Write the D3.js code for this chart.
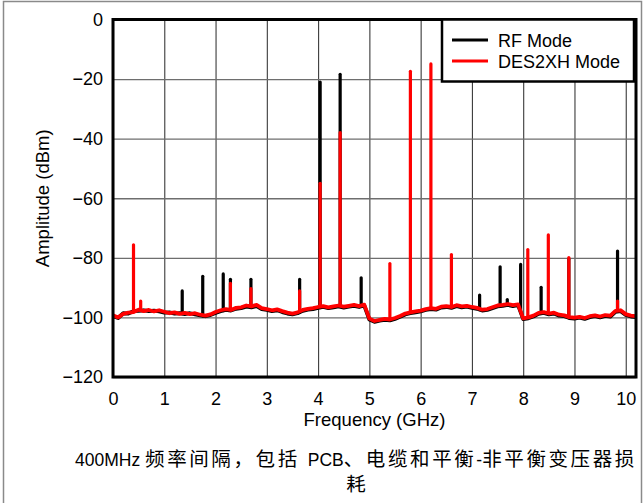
<!DOCTYPE html>
<html>
<head>
<meta charset="utf-8">
<script src="https://cdn.jsdelivr.net/npm/d3@7/dist/d3.min.js"></script>
<style>
  html, body { margin: 0; padding: 0; background: #fff; }
  svg { display: block; }
  text { font-family: "Liberation Sans", Arial, "Noto Sans CJK SC", sans-serif; fill: #000; }
</style>
</head>
<body>
<svg id="chart" width="644" height="503"></svg>
<script>
// ---------------- DATA ----------------
const xTicks = [0, 1, 2, 3, 4, 5, 6, 7, 8, 9, 10];
const yTicks = [0, -20, -40, -60, -80, -100, -120];
const seriesNames = ["RF Mode", "DES2XH Mode"];
const seriesColors = ["#000000", "#ff0000"];

// noise floor sampled every 0.1 GHz from 0 to 10.2 GHz (dBm)
const floorFreqStep = 0.1;
const rfFloor = [
  -99.6, -100.2, -98.6, -98.7, -97.9, -97.8, -97.6, -97.9, -97.7, -98.0,
  -98.4, -98.3, -98.7, -98.6, -98.9, -98.6, -99.0, -99.3, -99.6, -99.2,
  -98.5, -97.9, -97.5, -97.7, -97.1, -96.9, -96.4, -96.6, -96.2, -97.2,
  -97.5, -97.9, -97.6, -98.2, -98.7, -99.0, -98.6, -97.8, -97.4, -97.2,
  -96.8, -96.5, -96.9, -96.6, -96.3, -96.7, -96.4, -96.1, -96.5, -96.0,
  -100.7, -101.5, -101.1, -100.8, -101.0, -100.5, -99.8, -99.0, -98.6, -98.3,
  -98.0, -97.5, -97.2, -97.4, -96.7, -96.5, -96.8, -96.2, -96.6, -96.4,
  -96.8, -97.1, -97.7, -97.5, -96.9, -96.3, -96.1, -95.8, -96.2, -95.9,
  -100.6, -100.3, -99.7, -98.8, -98.5, -99.0, -98.7, -99.4, -99.6, -100.2,
  -100.4, -100.1, -100.5, -99.9, -99.6, -100.0, -99.5, -99.7, -98.1, -97.9,
  -99.2, -99.7, -99.9
];
const desFloor = [
  -99.3, -100.0, -98.8, -98.4, -98.2, -97.4, -97.9, -97.5, -98.0, -97.6,
  -98.1, -98.6, -98.3, -98.8, -98.5, -98.9, -98.6, -99.1, -99.4, -99.0,
  -98.2, -97.6, -97.2, -97.5, -96.8, -96.6, -96.0, -96.3, -95.8, -96.9,
  -97.2, -97.6, -97.3, -97.9, -98.4, -98.7, -98.3, -97.5, -97.1, -96.9,
  -96.5, -96.2, -96.6, -96.3, -96.0, -96.4, -96.1, -95.8, -96.2, -95.7,
  -100.4, -101.2, -100.8, -100.5, -100.7, -100.2, -99.5, -98.7, -98.3, -98.0,
  -97.7, -97.2, -96.9, -97.1, -96.4, -96.2, -96.5, -95.9, -96.3, -96.1,
  -96.5, -96.8, -97.4, -97.2, -96.6, -96.0, -95.8, -95.5, -95.9, -95.6,
  -100.3, -100.0, -99.4, -98.5, -98.2, -98.7, -98.4, -99.1, -99.3, -99.9,
  -100.1, -99.8, -100.2, -99.6, -99.3, -99.7, -99.2, -99.4, -97.8, -97.6,
  -98.9, -99.4, -99.6
];

// spurs: frequency (GHz) and peak level (dBm)
const rfSpurFreq = [1.35, 1.75, 2.15, 2.29, 2.69, 3.64, 4.04, 4.43, 4.84, 7.15, 7.55, 7.69, 7.95, 8.35, 8.89, 9.84];
const rfSpurPeak = [-91.1, -86.2, -85.4, -87.2, -87.2, -87.2, -21.0, -18.4, -86.7, -92.5, -83.0, -94.0, -82.2, -89.9, -80.5, -77.7];
const desSpurFreq = [0.40, 0.54, 2.29, 2.69, 3.64, 4.04, 4.43, 5.40, 5.80, 6.20, 6.60, 8.09, 8.49, 8.89, 9.84];
const desSpurPeak = [-75.6, -94.5, -88.6, -90.3, -91.1, -55.0, -38.0, -81.9, -17.4, -14.9, -78.9, -77.2, -72.3, -79.9, -94.5];

const xTitle = "Frequency (GHz)";
const yTitle = "Amplitude (dBm)";
const captionLine1 = ["400MHz ", "频率间隔，", "包括 ", "PCB", "、电缆和平衡", "-", "非平衡变压器损"];
const captionLine2 = "耗";

// ---------------- LAYOUT ----------------
const svg = d3.select("#chart");
const L = 113, R = 636, T = 19.5, B = 377;

const x = d3.scaleLinear().domain([0, 10.2]).range([L, R]);
const y = d3.scaleLinear().domain([-120, 0]).range([B, T]);

// outer figure border
svg.append("rect")
  .attr("x", 3.5).attr("y", 1.5).attr("width", 638).attr("height", 520)
  .attr("fill", "none").attr("stroke", "#8a8a8a").attr("stroke-width", 1.5);

// clip
svg.append("defs").append("clipPath").attr("id", "plotclip")
  .append("rect").attr("x", L).attr("y", T).attr("width", R - L).attr("height", B - T);

// gridlines
const grid = svg.append("g");
grid.append("g")
  .attr("transform", `translate(0,${B})`)
  .call(d3.axisBottom(x).tickValues(xTicks).tickSize(-(B - T)).tickFormat(""))
  .call(g => g.select(".domain").remove())
  .call(g => g.selectAll("line").attr("stroke", "#3a3a3a").attr("stroke-width", 1.1));
grid.append("g")
  .attr("transform", `translate(${L},0)`)
  .call(d3.axisLeft(y).tickValues(yTicks).tickSize(-(R - L)).tickFormat(""))
  .call(g => g.select(".domain").remove())
  .call(g => g.selectAll("line").attr("stroke", "#6e6e6e").attr("stroke-width", 1.4));

// data
const plot = svg.append("g").attr("clip-path", "url(#plotclip)");

function floorPoints(arr) {
  return arr.map((v, i) => [i * floorFreqStep, v]);
}
function floorAt(arr, f) {
  const i = Math.min(Math.floor(f / floorFreqStep), arr.length - 2);
  const t = f / floorFreqStep - i;
  return arr[i] * (1 - t) + arr[i + 1] * t;
}
const line = d3.line().x(d => x(d[0])).y(d => y(d[1]));

function drawSeries(floor, spurF, spurP, color) {
  plot.append("path")
    .datum(floorPoints(floor))
    .attr("d", line)
    .attr("fill", "none")
    .attr("stroke", color)
    .attr("stroke-width", 3.8)
    .attr("stroke-linejoin", "round");
  plot.append("g").selectAll("line")
    .data(spurF.map((f, i) => ({ f, p: spurP[i] })))
    .join("line")
    .attr("x1", d => x(d.f)).attr("x2", d => x(d.f))
    .attr("y1", d => y(floorAt(floor, d.f)))
    .attr("y2", d => y(d.p))
    .attr("stroke", color)
    .attr("stroke-width", 3.2)
    .attr("stroke-linecap", "round");
}
drawSeries(rfFloor, rfSpurFreq, rfSpurPeak, seriesColors[0]);
drawSeries(desFloor, desSpurFreq, desSpurPeak, seriesColors[1]);

// frame
svg.append("rect")
  .attr("x", L).attr("y", T).attr("width", R - L).attr("height", B - T)
  .attr("fill", "none").attr("stroke", "#000").attr("stroke-width", 3);

// tick labels
svg.append("g")
  .attr("transform", `translate(${L},0)`)
  .call(d3.axisLeft(y).tickValues(yTicks).tickSize(0).tickPadding(10))
  .call(g => g.select(".domain").remove())
  .call(g => g.selectAll("text").attr("font-size", 18).attr("font-family", null));
svg.append("g")
  .attr("transform", `translate(0,${B})`)
  .call(d3.axisBottom(x).tickValues(xTicks).tickSize(0).tickPadding(15))
  .call(g => g.select(".domain").remove())
  .call(g => g.selectAll("text").attr("font-size", 18).attr("font-family", null));

// axis titles
svg.append("text")
  .attr("x", (L + R) / 2).attr("y", 426)
  .attr("text-anchor", "middle").attr("font-size", 18.5)
  .text(xTitle);
svg.append("text")
  .attr("transform", `translate(48.5,${(T + B) / 2}) rotate(-90)`)
  .attr("text-anchor", "middle").attr("font-size", 18.5)
  .text(yTitle);

// legend
const lg = svg.append("g");
lg.append("rect")
  .attr("x", 442).attr("y", 19.5).attr("width", 192).attr("height", 62)
  .attr("fill", "#fff").attr("stroke", "#000").attr("stroke-width", 2.5);
seriesNames.forEach((name, i) => {
  const yy = 40 + i * 21;
  lg.append("line")
    .attr("x1", 452).attr("x2", 488).attr("y1", yy).attr("y2", yy)
    .attr("stroke", seriesColors[i]).attr("stroke-width", 3);
  lg.append("text")
    .attr("x", 498).attr("y", yy + 6.5)
    .attr("font-size", 18)
    .text(name);
});

// caption
const cap = svg.append("text").attr("x", 75).attr("y", 466);
captionLine1.forEach(t => {
  const isCJK = /[\u3000-\u9fff\uff00-\uffef]/.test(t);
  cap.append("tspan")
    .attr("font-size", isCJK ? 19.5 : 17.5)
    .attr("letter-spacing", isCJK ? 2.6 : 0)
    .text(t);
});
svg.append("text")
  .attr("x", 356).attr("y", 491)
  .attr("text-anchor", "middle").attr("font-size", 19.5)
  .text(captionLine2);
</script>
</body>
</html>
